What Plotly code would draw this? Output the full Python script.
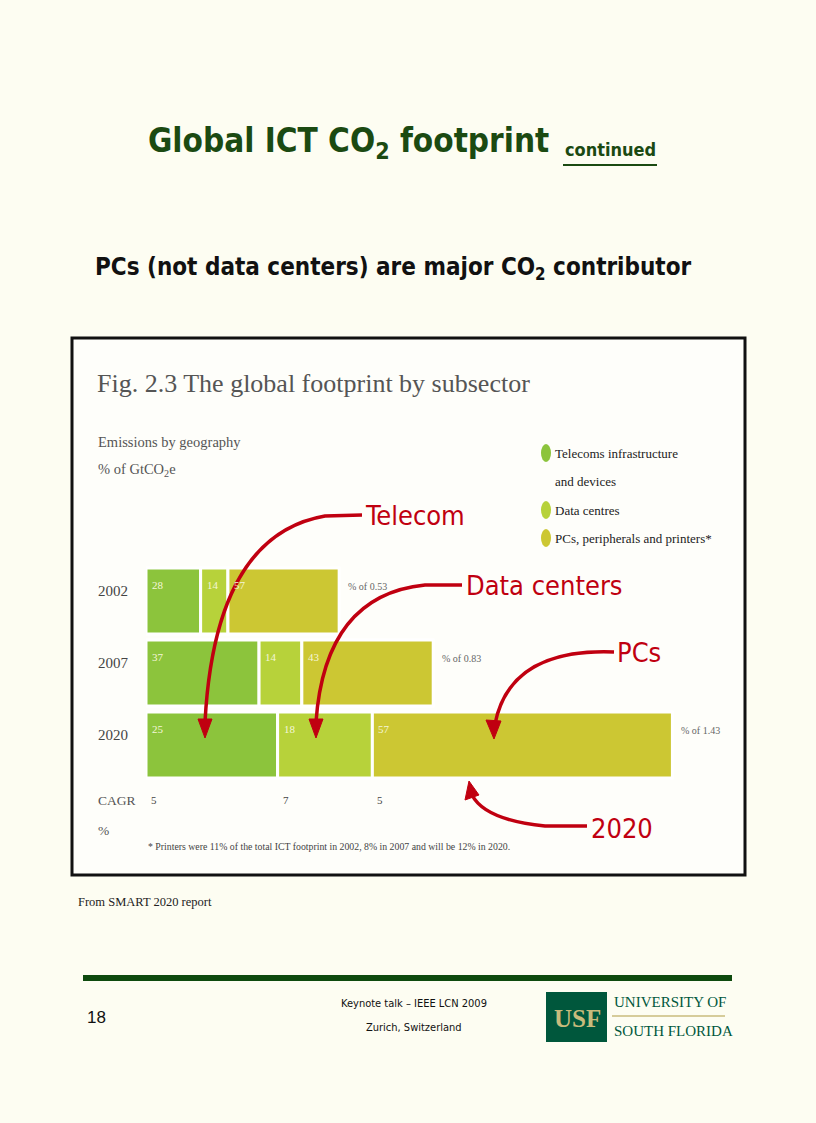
import plotly.graph_objects as go

W, H = 816, 1123

# ---------------- data ----------------
years = ["2002", "2007", "2020"]
totals = [0.53, 0.83, 1.43]            # GtCO2e
series = ["Telecoms infrastructure and devices", "Data centres", "PCs, peripherals and printers*"]
legend_lines = [["Telecoms infrastructure", "and devices"], ["Data centres"], ["PCs, peripherals and printers*"]]
shares = {
    "Telecoms infrastructure and devices": [28, 37, 25],
    "Data centres": [14, 14, 18],
    "PCs, peripherals and printers*": [57, 43, 57],
}
cagr = [5, 7, 5]
colors = ["#8cc43c", "#b7d23a", "#ccc733"]

def px(x):
    return x / W

def py(y):
    return 1 - y / H

fig = go.Figure()
rows = list(range(len(years)))   # row index of each year

# stacked bars: lengths = share x total
base = [0.0] * len(years)
starts = {}
for s, c in zip(series, colors):
    vals = [sh / 100 * t for sh, t in zip(shares[s], totals)]
    starts[s] = list(base)
    fig.add_trace(go.Bar(
        y=rows, x=vals, base=base, orientation="h", name=s,
        marker=dict(color=c, line=dict(color="white", width=3)),
        width=0.92, showlegend=False, hoverinfo="skip",
    ))
    base = [b + v for b, v in zip(base, vals)]

annotations = []
shapes = []

# segment labels
for s in series:
    for i in rows:
        annotations.append(dict(
            x=starts[s][i], y=i, xref="x", yref="y", xshift=4, yshift=16,
            text=str(shares[s][i]), showarrow=False, xanchor="left", yanchor="middle",
            font=dict(family="Liberation Serif", size=11, color="#f4f6d8"),
        ))
# "% of" labels
for i in rows:
    annotations.append(dict(
        x=base[i], y=i, xref="x", yref="y", xshift=7, yshift=15,
        text=f"% of {totals[i]}", showarrow=False, xanchor="left", yanchor="middle",
        font=dict(family="Liberation Serif", size=10, color="#666666"),
    ))
# year labels
for i, yr in zip(rows, years):
    annotations.append(dict(
        x=px(96), y=i, xref="paper", yref="y", yshift=10,
        text=yr, showarrow=False, xanchor="left", yanchor="middle",
        font=dict(family="Liberation Serif", size=15, color="#444444"),
    ))
# CAGR values at 2020 segment starts
for s, v in zip(series, cagr):
    annotations.append(dict(
        x=starts[s][2], y=py(800), xref="x", yref="paper", xshift=3,
        text=str(v), showarrow=False, xanchor="left", yanchor="middle",
        font=dict(family="Liberation Serif", size=11, color="#444444"),
    ))

def txt(x, y, text, size, color, family="Liberation Serif", xanchor="left", weight=None):
    f = dict(family=family, size=size, color=color)
    if weight:
        f["weight"] = weight
    annotations.append(dict(x=px(x), y=py(y), xref="paper", yref="paper", text=text,
                            showarrow=False, xanchor=xanchor, yanchor="middle", font=f))

# slide titles
TF = "DejaVu Sans Condensed"
txt(348, 142, "Global ICT CO<sub>2</sub> footprint", 33, "#1b4a12", family=TF, xanchor="center", weight="bold")
txt(563, 150, "continued", 18, "#1b4a12", family=TF, weight="bold")
shapes.append(dict(type="line", xref="paper", yref="paper", x0=px(563), x1=px(657), y0=py(165), y1=py(165),
                   line=dict(color="#1b4a12", width=2)))
txt(393, 268, "PCs (not data centers) are major CO<sub>2</sub> contributor", 24, "#111111", family=TF, xanchor="center", weight="bold")

# chart box
shapes.append(dict(type="rect", xref="paper", yref="paper", x0=px(72), x1=px(745), y0=py(338), y1=py(875),
                   line=dict(color="#111111", width=3), fillcolor="#fefefa", layer="below"))
txt(95, 383, "Fig. 2.3 The global footprint by subsector", 26, "#555555")
txt(96, 442, "Emissions by geography", 14.5, "#555555")
txt(96, 470, "% of GtCO<sub>2</sub>e", 14.5, "#555555")
txt(96, 800, "CAGR", 13.5, "#555555")
txt(96, 830, "%", 13.5, "#555555")
txt(146, 846, "* Printers were 11% of the total ICT footprint in 2002, 8% in 2007 and will be 12% in 2020.", 9.8, "#444444")
txt(76, 902, "From SMART 2020 report", 12.5, "#222222")

# legend
leg_y = [[453, 481], [510], [538]]
for lines, ys, c in zip(legend_lines, leg_y, colors):
    shapes.append(dict(type="circle", xref="paper", yref="paper", x0=px(541), x1=px(551),
                       y0=py(ys[0] + 9), y1=py(ys[0] - 9), fillcolor=c, line=dict(width=0)))
    for ln, yy in zip(lines, ys):
        txt(553, yy, ln, 13, "#222222")

# red annotations with curved arrows
RED = "#c00010"
RF = "DejaVu Sans Condensed"
txt(363, 515, "Telecom", 27, RED, family=RF)
txt(464, 585, "Data centers", 27, RED, family=RF)
txt(615, 652, "PCs", 27, RED, family=RF)
txt(589, 828, "2020", 27, RED, family=RF)

def P(x, y):
    return f"{px(x):.5f},{py(y):.5f}"

curves = [
    f"M {P(362,515)} L {P(325,516)} Q {P(215,535)} {P(205,722)}",
    f"M {P(462,585)} L {P(425,585)} Q {P(325,595)} {P(316,722)}",
    f"M {P(614,652)} Q {P(510,648)} {P(495,724)}",
    f"M {P(587,826)} L {P(545,826)} Q {P(485,820)} {P(472,795)}",
]
for c in curves:
    shapes.append(dict(type="path", xref="paper", yref="paper", path=c, line=dict(color=RED, width=3.5)))
heads = [
    [(205, 738), (198, 719), (212, 719)],
    [(316, 738), (309, 719), (323, 719)],
    [(494, 739), (486, 720), (501, 721)],
    [(469, 781), (465, 800), (479, 795)],
]
for h in heads:
    path = "M " + " L ".join(P(x, y) for x, y in h) + " Z"
    shapes.append(dict(type="path", xref="paper", yref="paper", path=path, fillcolor=RED, line=dict(color=RED, width=1)))

# footer
shapes.append(dict(type="rect", xref="paper", yref="paper", x0=px(83), x1=px(732), y0=py(975), y1=py(981),
                   fillcolor="#0e4a0e", line=dict(width=0)))
txt(85, 1017, "18", 17, "#111111", family="Liberation Sans")
txt(414, 1003, "Keynote talk – IEEE LCN 2009", 11, "#111111", family="DejaVu Sans Condensed", xanchor="center")
txt(414, 1027, "Zurich, Switzerland", 11, "#111111", family="DejaVu Sans Condensed", xanchor="center")
shapes.append(dict(type="rect", xref="paper", yref="paper", x0=px(546), x1=px(607), y0=py(992), y1=py(1042),
                   fillcolor="#00573c", line=dict(width=0)))
txt(577, 1018, "USF", 25, "#c8bb7c", family="Liberation Serif", xanchor="center", weight="bold")
txt(612, 1002, "UNIVERSITY OF", 15, "#00573c", family="Liberation Serif")
txt(612, 1031, "SOUTH FLORIDA", 15, "#00573c", family="Liberation Serif")
shapes.append(dict(type="line", xref="paper", yref="paper", x0=px(612), x1=px(725), y0=py(1016), y1=py(1016),
                   line=dict(color="#c8bb7c", width=1.5)))

fig.update_layout(
    width=W, height=H, margin=dict(l=0, r=0, t=0, b=0),
    paper_bgcolor="#fdfdf2", plot_bgcolor="rgba(0,0,0,0)",
    barmode="overlay",
    xaxis=dict(domain=[px(146), px(735)], range=[0, 1.6], visible=False),
    yaxis=dict(domain=[py(781), py(565)], range=[2.5, -0.5], visible=False),
    annotations=annotations, shapes=shapes,
)

fig.write_html("out.html", post_script="document.body.style.margin='0px';",
               config={"displayModeBar": False})
